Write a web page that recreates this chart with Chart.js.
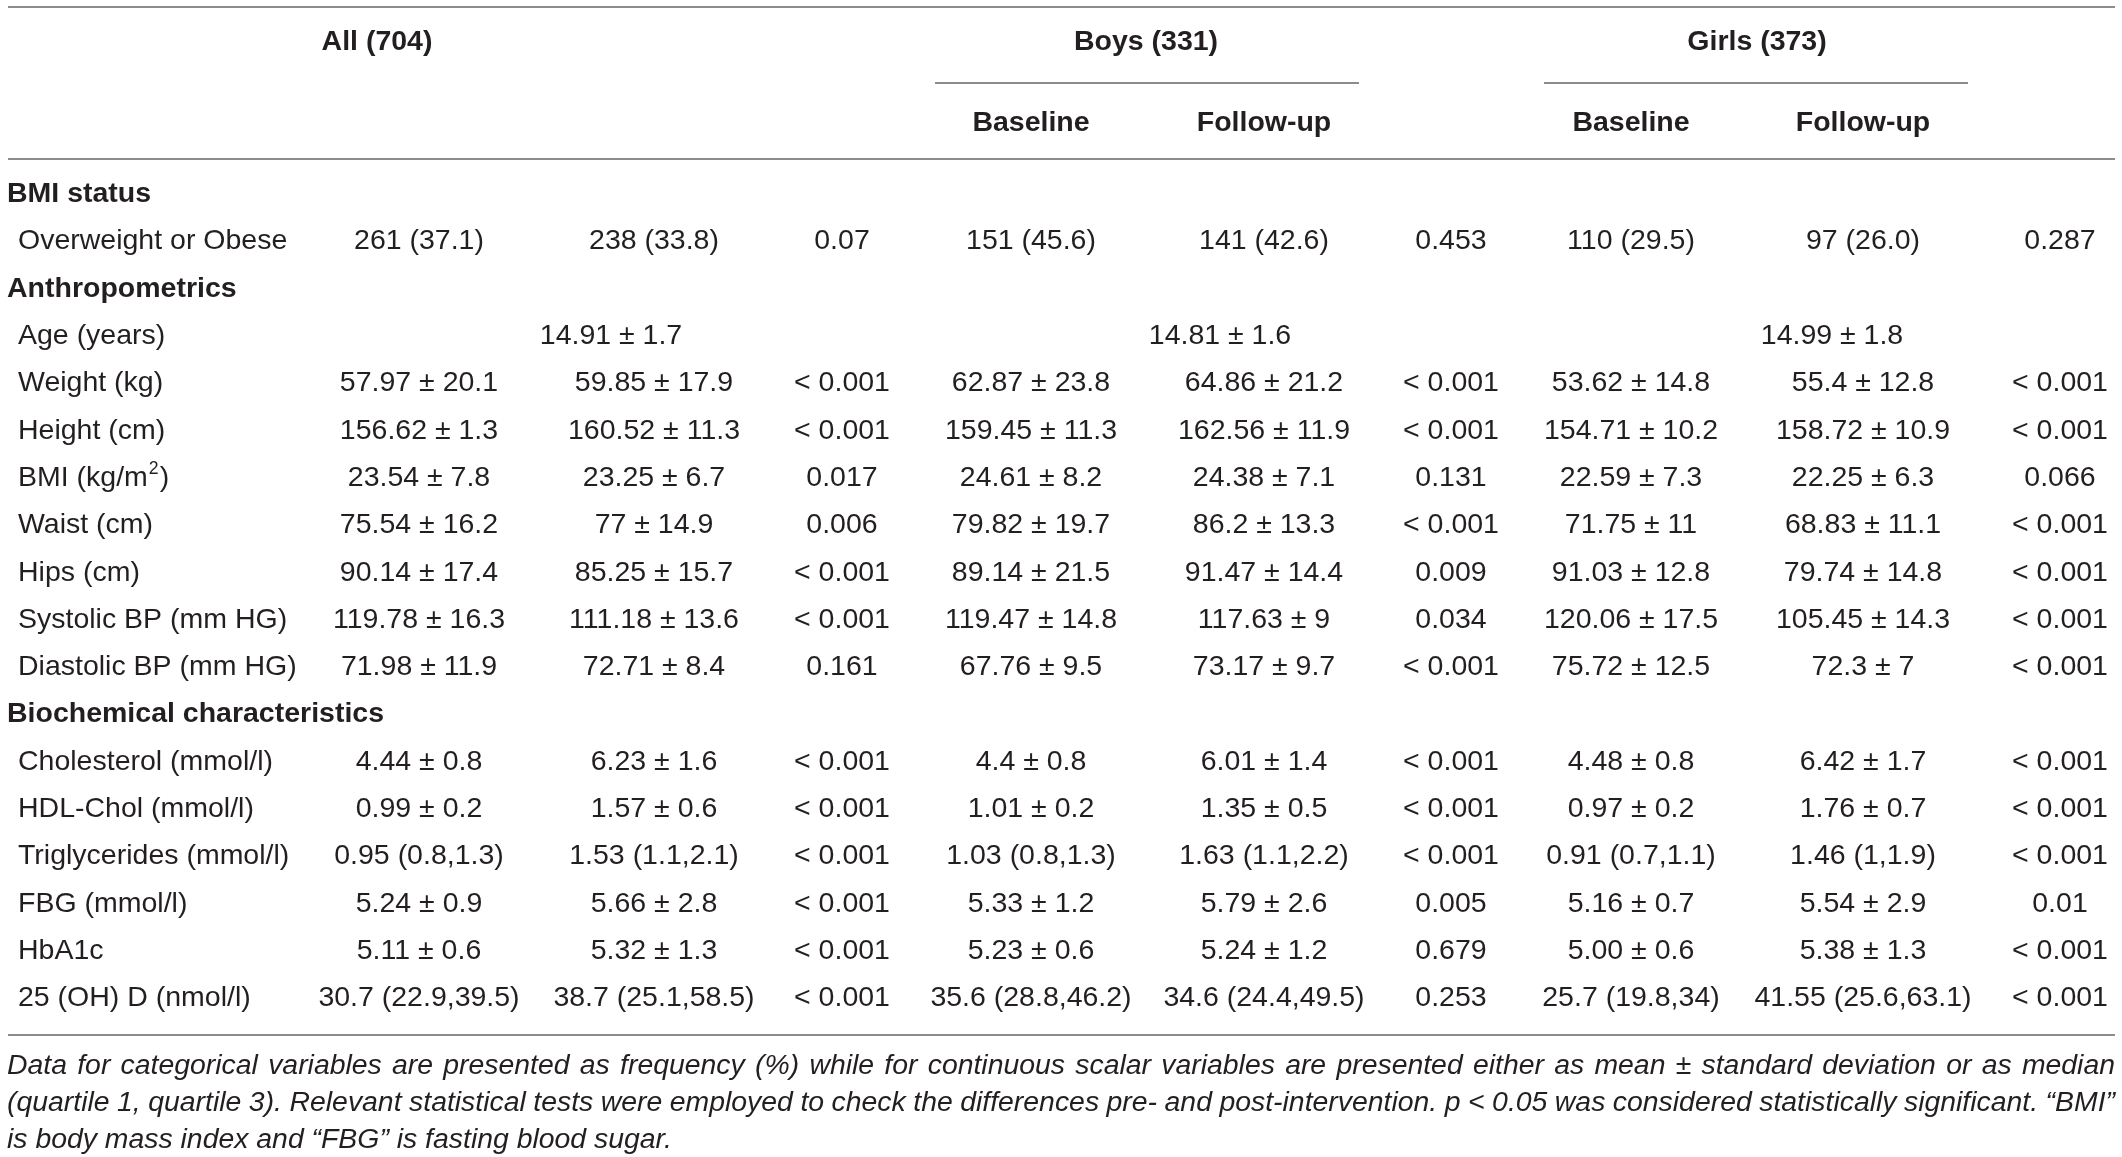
<!DOCTYPE html>
<html>
<head>
<meta charset="utf-8">
<title>Table</title>
<script src="https://cdn.jsdelivr.net/npm/chart.js@4.4.1/dist/chart.umd.min.js"></script>
<style>
  html, body { margin: 0; padding: 0; background: #ffffff; overflow: hidden; }
  #wrap { width: 2122px; height: 1157px; position: relative; }
  canvas { display: block; }
</style>
</head>
<body>
<div id="wrap"><canvas id="c" width="2122" height="1157" style="width:2122px;height:1157px"></canvas></div>
<script>
// ---------------- DATA ----------------
const groupHeaders = ["All (704)", "Boys (331)", "Girls (373)"];
const subHeaders = ["Baseline", "Follow-up"];

const rowLabels = [
  "BMI status", "Overweight or Obese",
  "Anthropometrics", "Age (years)", "Weight (kg)", "Height (cm)", "BMI (kg/m²)",
  "Waist (cm)", "Hips (cm)", "Systolic BP (mm HG)", "Diastolic BP (mm HG)",
  "Biochemical characteristics", "Cholesterol (mmol/l)", "HDL-Chol (mmol/l)",
  "Triglycerides (mmol/l)", "FBG (mmol/l)", "HbA1c", "25 (OH) D (nmol/l)"
];
const sectionRows = ["BMI status", "Anthropometrics", "Biochemical characteristics"];
const dataRows = rowLabels.filter(r => !sectionRows.includes(r));

// one value per data row (in dataRows order); null = empty cell
const allBaseline = ["261 (37.1)", null, "57.97 ± 20.1", "156.62 ± 1.3", "23.54 ± 7.8", "75.54 ± 16.2", "90.14 ± 17.4", "119.78 ± 16.3", "71.98 ± 11.9", "4.44 ± 0.8", "0.99 ± 0.2", "0.95 (0.8,1.3)", "5.24 ± 0.9", "5.11 ± 0.6", "30.7 (22.9,39.5)"];
const allFollowUp = ["238 (33.8)", null, "59.85 ± 17.9", "160.52 ± 11.3", "23.25 ± 6.7", "77 ± 14.9", "85.25 ± 15.7", "111.18 ± 13.6", "72.71 ± 8.4", "6.23 ± 1.6", "1.57 ± 0.6", "1.53 (1.1,2.1)", "5.66 ± 2.8", "5.32 ± 1.3", "38.7 (25.1,58.5)"];
const allP        = ["0.07", null, "< 0.001", "< 0.001", "0.017", "0.006", "< 0.001", "< 0.001", "0.161", "< 0.001", "< 0.001", "< 0.001", "< 0.001", "< 0.001", "< 0.001"];
const boysBaseline = ["151 (45.6)", null, "62.87 ± 23.8", "159.45 ± 11.3", "24.61 ± 8.2", "79.82 ± 19.7", "89.14 ± 21.5", "119.47 ± 14.8", "67.76 ± 9.5", "4.4 ± 0.8", "1.01 ± 0.2", "1.03 (0.8,1.3)", "5.33 ± 1.2", "5.23 ± 0.6", "35.6 (28.8,46.2)"];
const boysFollowUp = ["141 (42.6)", null, "64.86 ± 21.2", "162.56 ± 11.9", "24.38 ± 7.1", "86.2 ± 13.3", "91.47 ± 14.4", "117.63 ± 9", "73.17 ± 9.7", "6.01 ± 1.4", "1.35 ± 0.5", "1.63 (1.1,2.2)", "5.79 ± 2.6", "5.24 ± 1.2", "34.6 (24.4,49.5)"];
const boysP        = ["0.453", null, "< 0.001", "< 0.001", "0.131", "< 0.001", "0.009", "0.034", "< 0.001", "< 0.001", "< 0.001", "< 0.001", "0.005", "0.679", "0.253"];
const girlsBaseline = ["110 (29.5)", null, "53.62 ± 14.8", "154.71 ± 10.2", "22.59 ± 7.3", "71.75 ± 11", "91.03 ± 12.8", "120.06 ± 17.5", "75.72 ± 12.5", "4.48 ± 0.8", "0.97 ± 0.2", "0.91 (0.7,1.1)", "5.16 ± 0.7", "5.00 ± 0.6", "25.7 (19.8,34)"];
const girlsFollowUp = ["97 (26.0)", null, "55.4 ± 12.8", "158.72 ± 10.9", "22.25 ± 6.3", "68.83 ± 11.1", "79.74 ± 14.8", "105.45 ± 14.3", "72.3 ± 7", "6.42 ± 1.7", "1.76 ± 0.7", "1.46 (1,1.9)", "5.54 ± 2.9", "5.38 ± 1.3", "41.55 (25.6,63.1)"];
const girlsP        = ["0.287", null, "< 0.001", "< 0.001", "0.066", "< 0.001", "< 0.001", "< 0.001", "< 0.001", "< 0.001", "< 0.001", "< 0.001", "0.01", "< 0.001", "< 0.001"];

// merged (spanning) cells of the "Age (years)" row: All, Boys, Girls
const ageRow = "Age (years)";
const ageMerged = ["14.91 ± 1.7", "14.81 ± 1.6", "14.99 ± 1.8"];

const footnoteLines = [
  "Data for categorical variables are presented as frequency (%) while for continuous scalar variables are presented either as mean ± standard deviation or as median",
  "(quartile 1, quartile 3). Relevant statistical tests were employed to check the differences pre- and post-intervention. p < 0.05 was considered statistically significant. “BMI”",
  "is body mass index and “FBG” is fasting blood sugar."
];

const columns = [allBaseline, allFollowUp, allP, boysBaseline, boysFollowUp, boysP, girlsBaseline, girlsFollowUp, girlsP];

// ---------------- LAYOUT (positions in x-axis units / px) ----------------
const LAYOUT = {
  width: 2122, height: 1157,
  colX: [419, 654, 842, 1031, 1264, 1451, 1631, 1863, 2060],
  mergedX: [611, 1220, 1832],
  groupX: [377, 1146, 1757],
  groupLines: [null, [935, 1359], [1544, 1968]],
  subHeaderCols: [3, 4, 6, 7],
  groupY: 42, groupLineY: 83, subY: 123,
  topRuleY: 7, headRuleY: 159, bottomRuleY: 1035,
  ruleX: [8, 2115],
  sectionX: 7, labelX: 18,
  bodyTop: 170.6, rowH: 47.3,
  footX: 7, footY: [1066, 1103, 1140], footWidth: 2108, footLastEnd: 672
};
const STYLE = {
  family: "'Liberation Sans', Arial, Helvetica, sans-serif",
  bodySize: 28.5, headSize: 28.5,
  text: "#231f20", rule: "#8c8c8c", ruleW: 2
};

// ---------------- CHART ----------------
const datasets = columns.map((col, c) => {
  const pts = [], texts = [];
  col.forEach((v, j) => {
    if (v === null) return;
    pts.push({ x: LAYOUT.colX[c], y: dataRows[j] });
    texts.push(v);
  });
  return { label: "col" + c, data: pts, cellText: texts, pointRadius: 0, showLine: false };
});
datasets.push({
  label: "merged",
  data: ageMerged.map((v, k) => ({ x: LAYOUT.mergedX[k], y: ageRow })),
  cellText: ageMerged, pointRadius: 0, showLine: false
});

const bodyBottom = LAYOUT.bodyTop + LAYOUT.rowH * rowLabels.length;

// draw text, rendering "²" as a raised smaller "2"
function drawRich(ctx, text, x, y, size, family) {
  const parts = text.split("²");
  if (parts.length === 1) { ctx.fillText(text, x, y); return; }
  let cx = x;
  parts.forEach((p, i) => {
    ctx.font = size + "px " + family;
    ctx.fillText(p, cx, y);
    cx += ctx.measureText(p).width;
    if (i < parts.length - 1) {
      const s = size * 0.62;
      ctx.font = s + "px " + family;
      ctx.fillText("2", cx + 1, y - size * 0.33);
      cx += ctx.measureText("2").width + 2;
    }
  });
  ctx.font = size + "px " + family;
}

function drawJustified(ctx, line, x, y, width) {
  const words = line.split(" ");
  const total = words.reduce((s, w) => s + ctx.measureText(w).width, 0);
  const gap = (width - total) / (words.length - 1);
  let cx = x;
  words.forEach(w => { ctx.fillText(w, cx, y); cx += ctx.measureText(w).width + gap; });
}

const tablePlugin = {
  id: "tablePlugin",
  beforeDraw(chart) {
    const ctx = chart.ctx;
    ctx.save();
    ctx.fillStyle = "#ffffff";
    ctx.fillRect(0, 0, chart.width, chart.height);
    ctx.restore();
  },
  afterDatasetsDraw(chart) {
    const ctx = chart.ctx;
    const xs = chart.scales.x, ys = chart.scales.y;
    const body = STYLE.bodySize + "px " + STYLE.family;
    const bold = "bold " + STYLE.headSize + "px " + STYLE.family;
    ctx.save();
    // rules
    ctx.strokeStyle = STYLE.rule;
    ctx.lineWidth = STYLE.ruleW;
    const hline = (x0, x1, y) => { ctx.beginPath(); ctx.moveTo(x0, y); ctx.lineTo(x1, y); ctx.stroke(); };
    const rx0 = xs.getPixelForValue(LAYOUT.ruleX[0]), rx1 = xs.getPixelForValue(LAYOUT.ruleX[1]);
    hline(rx0, rx1, LAYOUT.topRuleY);
    hline(rx0, rx1, LAYOUT.headRuleY);
    hline(rx0, rx1, LAYOUT.bottomRuleY);
    LAYOUT.groupLines.forEach(g => { if (g) hline(xs.getPixelForValue(g[0]), xs.getPixelForValue(g[1]), LAYOUT.groupLineY); });

    ctx.fillStyle = STYLE.text;
    ctx.textBaseline = "middle";
    // group headers
    ctx.font = bold;
    ctx.textAlign = "center";
    groupHeaders.forEach((h, i) => ctx.fillText(h, xs.getPixelForValue(LAYOUT.groupX[i]), LAYOUT.groupY));
    // sub headers
    LAYOUT.subHeaderCols.forEach((c, k) => ctx.fillText(subHeaders[k % 2], xs.getPixelForValue(LAYOUT.colX[c]), LAYOUT.subY));

    // row labels
    ctx.textAlign = "left";
    rowLabels.forEach((lab, i) => {
      const py = ys.getPixelForValue(i);
      const isSec = sectionRows.includes(lab);
      if (isSec) {
        ctx.font = bold;
        ctx.fillText(lab, xs.getPixelForValue(LAYOUT.sectionX), py);
      } else {
        ctx.font = body;
        drawRich(ctx, lab, xs.getPixelForValue(LAYOUT.labelX), py, STYLE.bodySize, STYLE.family);
      }
    });

    // cells
    ctx.font = body;
    ctx.textAlign = "center";
    chart.data.datasets.forEach((ds, di) => {
      const meta = chart.getDatasetMeta(di);
      meta.data.forEach((el, j) => {
        const t = ds.cellText[j];
        if (t == null) return;
        ctx.fillText(t, el.x, el.y);
      });
    });

    // footnote (justified, last line left-aligned)
    ctx.textAlign = "left";
    ctx.font = "italic 100px " + STYLE.family;
    const wLast = ctx.measureText(footnoteLines[footnoteLines.length - 1]).width;
    let fs = 100 * (LAYOUT.footLastEnd - LAYOUT.footX) / wLast;
    // make sure the longest line still fits
    const wMax = Math.max(...footnoteLines.map(l => ctx.measureText(l).width));
    fs = Math.min(fs, 100 * LAYOUT.footWidth / wMax * 1.01);
    ctx.font = "italic " + fs.toFixed(2) + "px " + STYLE.family;
    footnoteLines.forEach((l, i) => {
      if (i < footnoteLines.length - 1) drawJustified(ctx, l, LAYOUT.footX, LAYOUT.footY[i], LAYOUT.footWidth);
      else ctx.fillText(l, LAYOUT.footX, LAYOUT.footY[i]);
    });
    ctx.restore();
  }
};

new Chart(document.getElementById("c"), {
  type: "scatter",
  data: { labels: rowLabels, datasets },
  options: {
    responsive: false,
    devicePixelRatio: 1,
    animation: false,
    events: [],
    layout: { padding: { top: LAYOUT.bodyTop, bottom: LAYOUT.height - bodyBottom, left: 0, right: 0 } },
    plugins: { legend: { display: false }, tooltip: { enabled: false } },
    scales: {
      x: { type: "linear", min: 0, max: LAYOUT.width, display: false },
      y: { type: "category", labels: rowLabels, offset: true, display: false }
    }
  },
  plugins: [tablePlugin]
});
</script>
</body>
</html>
